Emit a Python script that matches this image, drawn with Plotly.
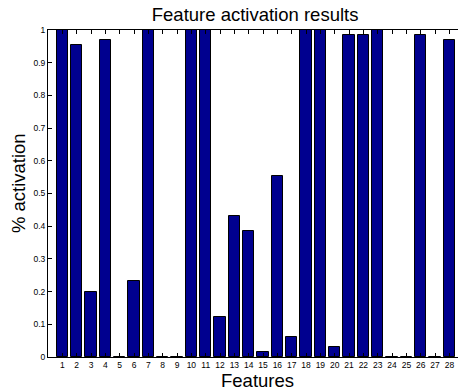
import plotly.graph_objects as go

features = list(range(1, 29))
activation = [1.0, 0.955, 0.2, 0.97, 0.0, 0.231, 1.0, 0.0, 0.0, 1.0,
              1.0, 0.123, 0.432, 0.384, 0.015, 0.555, 0.062, 1.0, 1.0, 0.032,
              0.986, 0.986, 1.0, 0.0, 0.0, 0.986, 0.0, 0.97]
y_ticks = [round(i * 0.1, 1) for i in range(11)]
y_tick_labels = ["0", "0.1", "0.2", "0.3", "0.4", "0.5", "0.6", "0.7", "0.8", "0.9", "1"]

fig = go.Figure()
fig.add_trace(go.Bar(
    x=features, y=activation, width=0.8,
    marker=dict(color="#00008F", line=dict(color="black", width=1)),
))

font = "Liberation Sans, Arial, Helvetica, sans-serif"
fig.update_layout(
    width=458, height=391,
    margin=dict(l=48, r=0, t=30, b=34, autoexpand=False),
    paper_bgcolor="white", plot_bgcolor="white",
    showlegend=False,
    title=dict(text="Feature activation results", x=0.557, xanchor="center",
               y=0.962, yanchor="middle", font=dict(family=font, size=18.5, color="black")),
    font=dict(family=font, color="black"),
    bargap=0,
    annotations=[
        dict(text="% activation", xref="paper", yref="paper", x=-0.073, y=0.532,
             xanchor="center", yanchor="middle", textangle=-90, showarrow=False,
             font=dict(family=font, size=18.5, color="black")),
        dict(text="Features", xref="paper", yref="paper", x=0.511, y=-0.072,
             xanchor="center", yanchor="middle", showarrow=False, borderpad=0,
             font=dict(family=font, size=18.5, color="black")),
    ],
)
fig.update_xaxes(
    range=[0, 28.6], tickmode="array", tickvals=features,
    ticktext=[str(f) for f in features],
    ticks="inside", ticklen=4, tickcolor="black",
    showline=True, linecolor="black", linewidth=1, mirror="ticks",
    showgrid=False, zeroline=False, automargin=False,
    tickfont=dict(size=8.5, family=font),
)
fig.update_yaxes(
    range=[0, 1], tickmode="array", tickvals=y_ticks, ticktext=y_tick_labels,
    ticks="inside", ticklen=4, tickcolor="black",
    showline=True, linecolor="black", linewidth=1,
    showgrid=False, zeroline=False, automargin=False,
    tickfont=dict(size=8.5, family=font),
)
fig.write_html("out.html", config={"displayModeBar": False},
               post_script="document.body.style.margin='0';")
